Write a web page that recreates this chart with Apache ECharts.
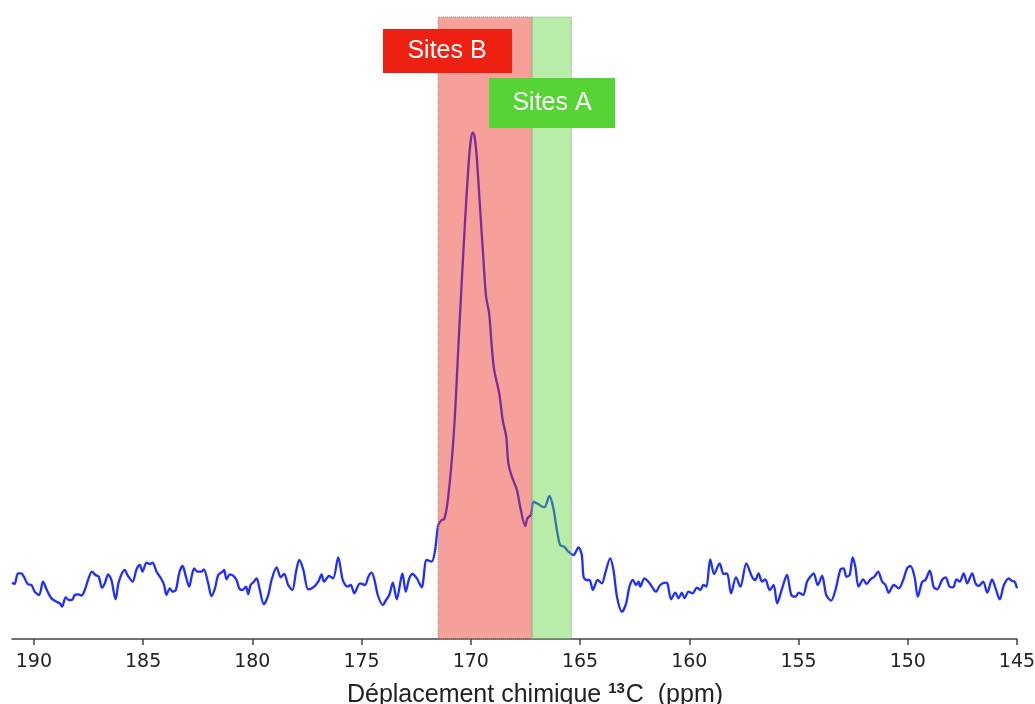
<!DOCTYPE html>
<html>
<head>
<meta charset="utf-8">
<script src="https://cdn.jsdelivr.net/npm/echarts@6/dist/echarts.min.js"></script>
<style>html,body{margin:0;padding:0;background:#fff}#chart{width:1035px;height:704px}</style>
</head>
<body>
<div id="chart"></div>
<script>
// Chemical shift (ppm) of each sampled point of the 13C spectrum
const ppm = [
191.00,190.88,190.73,190.57,190.46,190.27,190.11,189.96,189.76,189.58,189.42,189.20,188.97,188.81,188.71,188.54,188.40,188.25,188.13,187.94,187.82,187.67,187.52,187.34,187.18,187.03,186.88,186.75,186.60,186.45,186.26,186.11,185.84,185.69,185.48,185.30,185.15,185.03,184.84,184.69,184.57,184.38,184.16,184.04,183.93,183.78,183.65,183.50,183.35,183.19,183.04,182.89,182.78,182.66,182.51,182.32,182.22,182.02,181.87,181.71,181.56,181.36,181.29,181.18,181.03,180.88,180.72,180.60,180.45,180.29,180.19,180.08,179.93,179.80,179.69,
179.47,179.27,179.12,178.89,178.70,178.54,178.36,178.17,178.00,177.85,177.67,177.44,177.21,176.98,176.83,176.72,176.49,176.30,176.07,175.86,175.65,175.50,175.33,175.07,174.84,174.69,174.54,174.39,174.26,174.03,173.88,173.73,173.57,173.39,173.13,172.98,172.83,172.68,172.47,172.25,172.02,171.79,171.64,
171.49,171.33,171.22,171.07,170.87,170.72,170.57,170.41,170.26,170.11,170.00,169.91,169.84,169.73,169.58,169.42,169.30,169.16,169.04,168.93,168.70,168.54,168.38,168.28,168.12,167.89,167.74,167.51,167.41,167.25,167.13,166.98,166.64,166.40,166.22,166.06,165.91,165.73,165.53,165.30,165.07,164.92,
164.84,164.72,164.57,164.41,164.20,164.00,163.85,163.62,163.47,163.31,163.08,162.89,162.74,162.58,162.44,162.32,162.25,162.05,161.87,161.71,161.53,161.33,161.10,161.00,160.83,160.64,160.49,160.34,160.22,160.03,159.85,159.65,159.50,159.35,159.22,159.04,158.86,158.61,158.43,158.27,158.09,157.86,157.66,157.39,157.13,156.98,156.83,156.67,156.52,156.32,156.14,155.98,155.75,155.53,155.33,155.14,
154.99,154.79,154.61,154.46,154.31,154.12,153.92,153.73,153.51,153.31,153.08,152.93,152.81,152.66,152.52,152.40,152.25,152.04,151.89,151.71,151.53,151.36,151.17,151.02,150.87,150.64,150.41,150.21,150.03,149.88,149.69,149.54,149.34,149.19,148.99,148.81,148.65,148.43,148.27,148.08,147.92,147.77,147.62,147.44,147.28,147.05,146.90,146.75,146.55,146.36,146.14,145.98,145.79,145.60,145.37,145.25,145.11,145.00
];
// Intensity (arbitrary units)
const intensity = [
5.63,5.50,6.57,6.57,6.23,5.47,5.40,4.73,4.40,5.73,4.97,4.07,3.73,3.57,3.23,4.17,3.90,3.90,4.40,4.47,4.33,4.90,5.90,6.73,6.40,6.23,5.13,5.57,6.47,5.90,3.97,5.73,6.90,6.30,5.73,6.97,7.40,6.73,7.63,7.50,7.63,6.73,5.97,5.40,4.40,5.07,4.73,4.90,6.57,7.30,6.23,5.23,6.23,7.07,6.73,6.73,6.97,5.57,4.30,5.07,6.40,6.73,6.90,5.97,6.47,6.33,5.90,5.07,4.90,5.23,4.50,5.40,5.73,6.07,5.23,
3.47,4.40,5.90,7.17,6.17,6.50,5.40,4.90,6.73,7.90,6.97,4.97,5.17,5.73,6.47,5.73,6.30,6.07,8.17,5.90,5.23,5.40,4.57,5.57,5.40,6.23,6.63,5.73,4.40,3.40,3.90,4.40,5.63,3.97,6.57,4.73,5.97,6.50,6.07,5.17,7.90,7.73,8.80,
11.40,11.90,11.97,13.57,17.90,22.57,29.23,35.90,41.90,47.23,49.90,50.63,50.40,48.23,43.23,37.90,34.23,32.57,29.23,26.90,24.57,21.90,20.23,17.57,16.23,14.90,13.23,11.30,12.07,12.40,13.73,13.57,13.17,14.30,13.07,10.90,9.40,9.23,8.73,8.40,9.17,8.40,
6.23,5.90,5.90,4.90,5.90,5.57,6.57,8.07,6.90,4.23,2.73,3.57,5.23,5.90,5.40,5.73,5.23,6.07,5.73,5.23,4.73,5.40,5.63,5.57,3.97,4.63,4.07,4.63,4.07,4.73,4.57,5.13,4.90,5.40,5.23,7.97,6.50,7.57,6.50,6.57,4.57,6.17,5.23,7.57,6.23,5.90,6.57,5.73,5.97,4.90,5.40,3.57,5.07,6.40,4.40,4.23,
4.63,4.40,5.73,6.23,6.57,5.40,6.30,4.40,3.83,4.90,6.97,7.07,6.23,6.40,8.17,7.23,5.23,5.97,5.50,5.97,6.23,6.73,5.73,5.40,4.63,5.40,5.07,5.90,7.07,7.30,6.23,4.23,5.73,5.90,6.83,5.17,4.97,5.90,6.17,5.23,5.17,5.97,5.73,6.57,5.57,6.57,5.57,5.30,5.73,4.63,5.97,5.07,3.97,5.40,6.07,5.83,5.73,5.07
];
// Highlighted regions (ppm ranges)
const siteNames = ['Sites B', 'Sites A'];
const siteRanges = [[171.5, 167.2], [167.2, 165.4]];
// Tick labels
const tickValues = [190, 185, 180, 175, 170, 165, 160, 155, 150, 145];

const siteColors = ['rgba(233,44,27,0.45)', 'rgba(85,212,51,0.42)'];
const siteLabelColors = ['#ee2012', '#55d433'];

const chart = echarts.init(document.getElementById('chart'));
const data = ppm.map((p, i) => [p, intensity[i]]);

chart.setOption({
  animation: false,
  grid: { left: 12, right: 18, top: 17, bottom: 65, outerBoundsMode: 'none', containLabel: false },
  xAxis: {
    type: 'value', min: 145, max: 191, inverse: true,
    name: '{a|Déplacement chimique }{s|13}{a|C  (ppm)}',
    nameLocation: 'middle', nameGap: 42,
    nameTextStyle: {
      padding: [0, 0, 0, 41],
      rich: {
        a: { fontFamily: 'Liberation Sans', fontSize: 25, color: '#222', lineHeight: 28 },
        s: { fontFamily: 'Liberation Sans', fontSize: 15, fontWeight: 'bold', color: '#222', lineHeight: 28, verticalAlign: 'top', padding: [0, 1, 10, 0] }
      }
    },
    axisLine: { show: true, onZero: false, lineStyle: { color: '#444', width: 1.5 } },
    axisTick: { show: true, length: 6, customValues: tickValues, lineStyle: { color: '#444', width: 1.5 } },
    axisLabel: { customValues: tickValues, fontFamily: 'DejaVu Sans', fontSize: 19, color: '#222', margin: 14 },
    splitLine: { show: false }
  },
  yAxis: { type: 'value', min: 0, max: 62.2, show: false },
  series: [
    {
      type: 'line', data: data, showSymbol: false, smooth: 0.3, z: 2,
      lineStyle: { color: '#1f2eff', width: 2.3 }, silent: true
    },
    {
      type: 'line', data: [], zlevel: 1, z: 5, silent: true,
      markArea: {
        silent: true, zlevel: 1, z: 10,
        data: siteRanges.map((r, i) => [
          { xAxis: r[0], itemStyle: { color: siteColors[i], borderColor: '#999', borderWidth: 1, borderType: 'dotted' } },
          { xAxis: r[1] }
        ])
      }
    }
  ],
  graphic: [
    { type: 'rect', left: 383, top: 29, shape: { width: 129, height: 44 }, style: { fill: siteLabelColors[0] }, zlevel: 2, z: 10 },
    { type: 'text', x: 447, y: 51, style: { text: siteNames[0], fill: '#fff', font: '25px "Liberation Sans"', textAlign: 'center', textVerticalAlign: 'middle' }, zlevel: 2, z: 11 },
    { type: 'rect', left: 489, top: 78, shape: { width: 126, height: 50 }, style: { fill: siteLabelColors[1] }, zlevel: 2, z: 10 },
    { type: 'text', x: 552, y: 103, style: { text: siteNames[1], fill: '#fff', font: '25px "Liberation Sans"', textAlign: 'center', textVerticalAlign: 'middle' }, zlevel: 2, z: 11 }
  ]
});
</script>
</body>
</html>
